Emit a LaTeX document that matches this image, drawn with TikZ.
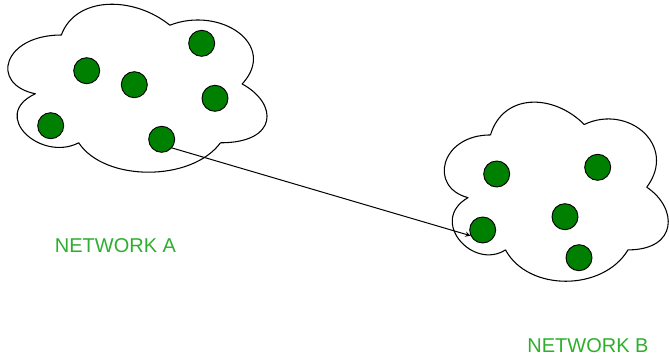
\documentclass[tikz,border=0pt]{standalone}
\usepackage{fontspec}
\setmainfont{Liberation Sans}
\definecolor{dotgreen}{RGB}{0,128,0}
\definecolor{textgreen}{RGB}{45,175,45}
\tikzset{
  cloudline/.style={draw=black, line width=0.8pt, fill=white},
  netcloud/.pic={
    \path[cloudline] (0.25,0.25) .. controls (0.05,0.25) and (0,0.5) .. (0.16,0.55)
      .. controls (0,0.66) and (0.18,0.9) .. (0.31,0.8)
      .. controls (0.4,1) and (0.7,1) .. (0.8,0.8)
      .. controls (1,0.8) and (1,0.6) .. (0.875,0.5)
      .. controls (1,0.3) and (0.8,0.1) .. (0.625,0.2)
      .. controls (0.5,0.05) and (0.3,0.05) .. (0.25,0.25) -- cycle;
  },
  dot/.style={circle, draw=black, line width=0.7pt, fill=dotgreen, minimum size=19.5pt, inner sep=0pt},
  netlabel/.style={text=textgreen, font=\fontsize{15}{18}\selectfont, inner sep=0pt}
}
\begin{document}
\begin{tikzpicture}[x=0.75pt, y=-0.75pt, line join=round, line cap=round, >=stealth]
	\useasboundingbox (0,0) rectangle (669,359);
	% the two clouds
	\coordinate (cA) at (-11,-14);
	\coordinate (cB) at (428,82.7);
	\pic[x=217pt, y=-147pt] at (cA) {netcloud};
	\pic[x=187.5pt, y=-156.75pt] at (cB) {netcloud};
	% hosts
	\foreach \n/\x/\y in {1/86.7/70.7, 2/134.3/84.7, 3/201.7/43.3, 4/215/98.3, 5/50.7/125.7, 6/161.7/139.3}
	\node[dot] (a\n) at (\x,\y) {};
	\foreach \n/\x/\y in {1/496.7/174, 2/597.7/167.3, 3/565/216.7, 4/482.7/230, 5/579/257.7}
	\node[dot] (b\n) at (\x,\y) {};
	\draw[->, line width=0.75pt] (a6.-40) -- (b4.205);
	\node[netlabel] (labA) at (115.5,246) {NETWORK A};
	\node[netlabel] (labB) at (588,345.5) {NETWORK B};
\end{tikzpicture}
\end{document}
